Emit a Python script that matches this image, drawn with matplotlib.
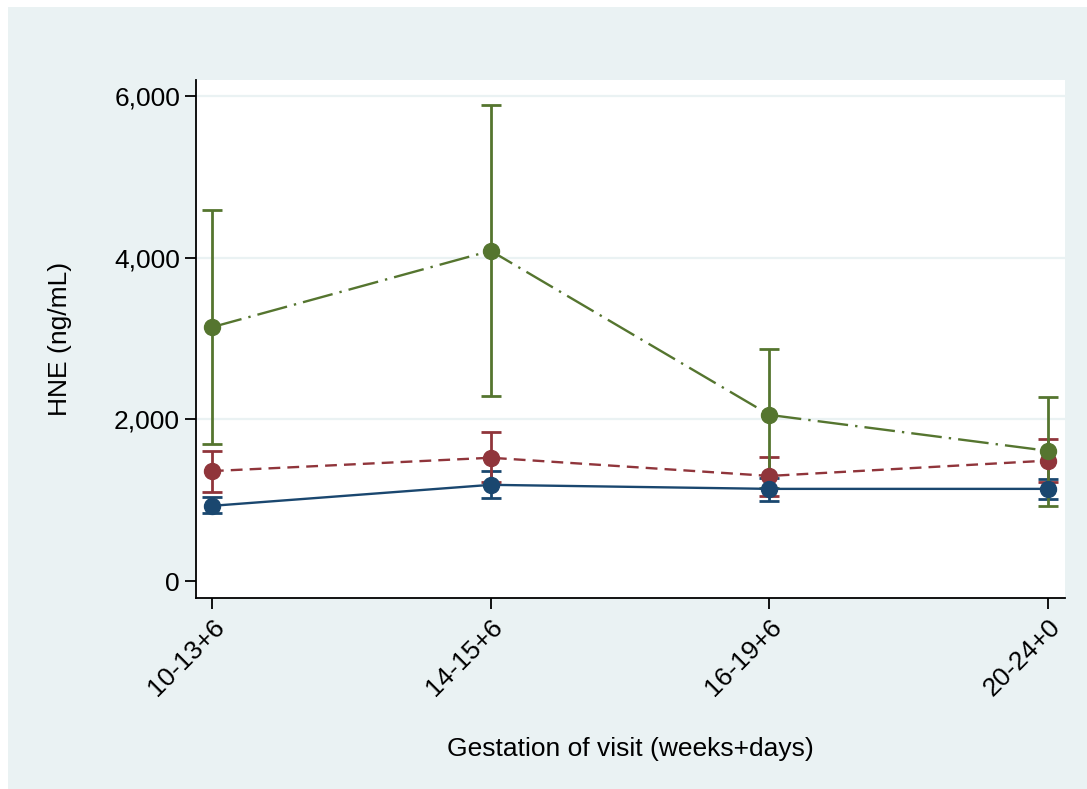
import matplotlib.pyplot as plt
import matplotlib.patches as patches
from matplotlib.ticker import FuncFormatter

plt.rcParams['font.family'] = ['Liberation Sans', 'DejaVu Sans']

visits = ["10-13+6", "14-15+6", "16-19+6", "20-24+0"]

# mean and 95% CI limits
blue_mean = [930, 1190, 1140, 1140]
blue_lo = [840, 1030, 990, 1015]
blue_hi = [1040, 1360, 1270, 1260]

red_mean = [1360, 1525, 1300, 1490]
red_lo = [1100, 1230, 1050, 1225]
red_hi = [1610, 1845, 1535, 1760]

green_mean = [3140, 4085, 2055, 1610]
green_lo = [1690, 2290, 1150, 930]
green_hi = [4595, 5890, 2870, 2280]

navy = "#1a476f"
maroon = "#90353b"
forest = "#55752f"
bg = "#eaf2f3"

fig = plt.figure(figsize=(10.87, 7.89), dpi=100)
fig.patch.set_facecolor("white")
fig.patches.append(patches.Rectangle((8 / 1087, 0), 1, 1 - 7 / 789,
                                     transform=fig.transFigure,
                                     facecolor=bg, edgecolor="none", zorder=-10))

ax = fig.add_axes([196 / 1087, 1 - 598 / 789, (1065 - 196) / 1087, (598 - 80) / 789])
ax.set_facecolor("white")

x = list(range(len(visits)))

series = [
    (blue_mean, blue_lo, blue_hi, navy, "-"),
    (red_mean, red_lo, red_hi, maroon, (0, (5, 3))),
    (green_mean, green_lo, green_hi, forest, (0, (13, 3, 1, 3))),
]

# error bars first, then lines with markers on top
for mean, lo, hi, col, ls in series:
    err = [[m - l for m, l in zip(mean, lo)], [h - m for m, h in zip(mean, hi)]]
    ax.errorbar(x, mean, yerr=err, fmt="none", ecolor=col, elinewidth=2,
                capsize=7, capthick=2, zorder=2)

for mean, lo, hi, col, ls in [series[1], series[2], series[0]]:
    ax.plot(x, mean, color=col, linestyle=ls, linewidth=1.7, marker="o",
            markersize=11.5, markerfacecolor=col, markeredgecolor=col, zorder=3)

for g in [2000, 4000, 6000]:
    ax.axhline(g, color=bg, linewidth=1.6, zorder=0)

ax.set_xlim(-0.057, 3.06)
ax.set_ylim(-210, 6198)
ax.set_yticks([0, 2000, 4000, 6000])
ax.yaxis.set_major_formatter(FuncFormatter(lambda v, p: f"{int(v):,}"))
ax.set_xticks(x)
ax.set_xticklabels(visits, rotation=45, ha="right", va="top", rotation_mode="anchor")

for s in ["top", "right"]:
    ax.spines[s].set_visible(False)
for s in ["left", "bottom"]:
    ax.spines[s].set_linewidth(1.3)
ax.tick_params(axis="both", labelsize=19, length=8, width=1.3, colors="black")
ax.tick_params(axis="x", pad=4)

ax.set_ylabel("HNE (ng/mL)", fontsize=19, labelpad=30)
ax.set_xlabel("Gestation of visit (weeks+days)", fontsize=19, labelpad=26)

fig.savefig("out.png", dpi=100, facecolor=fig.get_facecolor())
